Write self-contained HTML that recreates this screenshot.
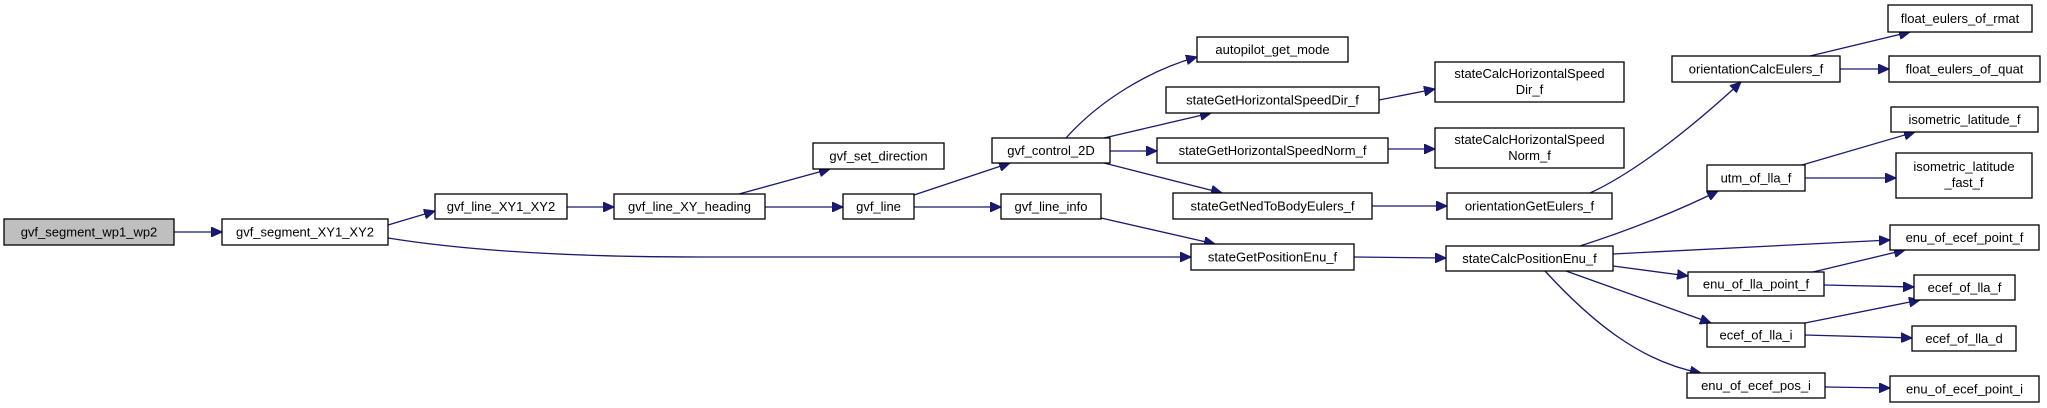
<!DOCTYPE html>
<html><head><meta charset="utf-8"><style>
html,body{margin:0;padding:0;background:#fff;}
svg{display:block;}
text{font-family:"Liberation Sans",sans-serif;font-size:13px;fill:#000;text-anchor:middle;}
rect{fill:#fff;stroke:#000;stroke-width:1.3;}
path{fill:none;stroke:#191970;stroke-width:1.3;}
</style></head><body>
<svg width="2047" height="408" viewBox="0 0 2047 408" xmlns="http://www.w3.org/2000/svg">
<defs>
<marker id="a" markerUnits="userSpaceOnUse" markerWidth="12" markerHeight="10" refX="11" refY="5" orient="auto">
<path d="M0,0 L11,5 L0,10 Z" style="fill:#191970;stroke:#191970;stroke-width:1"/>
</marker>
</defs>
<g marker-end="url(#a)">
<path d="M174,232 L222,232"/>
<path d="M388,225 L435,211"/>
<path d="M388,238 C450,248 550,257 700,257 L1191,257"/>
<path d="M567,207 L614,207"/>
<path d="M739,194 L830,169"/>
<path d="M765,207 L843,207"/>
<path d="M914,195 L1010,163"/>
<path d="M914,207 L1001,207"/>
<path d="M1101,218 L1215,244"/>
<path d="M1066,138 C1100,100 1150,70 1197,57"/>
<path d="M1104,138 L1211,113"/>
<path d="M1109,151 L1157,151"/>
<path d="M1104,163 L1222,193"/>
<path d="M1379,100 L1435,89"/>
<path d="M1388,149 L1435,149"/>
<path d="M1372,206 L1447,206"/>
<path d="M1590,193 C1640,170 1700,120 1741,82"/>
<path d="M1810,56 L1910,32"/>
<path d="M1840,69 L1889,69"/>
<path d="M1354,257 L1446,258"/>
<path d="M1580,246 C1630,230 1680,210 1718,191"/>
<path d="M1613,254 L1890,240"/>
<path d="M1613,266 L1688,276"/>
<path d="M1566,271 L1711,323"/>
<path d="M1545,271 C1590,320 1640,362 1701,373"/>
<path d="M1802,165 L1915,132"/>
<path d="M1805,178 L1896,178"/>
<path d="M1813,272 L1905,250"/>
<path d="M1824,285 L1914,287"/>
<path d="M1805,323 L1920,300"/>
<path d="M1805,335 L1912,338"/>
<path d="M1825,387 L1890,388"/>
</g>

<rect x="4" y="219" width="170" height="26" style="fill:#bfbfbf"/><text x="89" y="236.5">gvf_segment_wp1_wp2</text>
<rect x="222" y="219" width="166" height="26"/><text x="305" y="236.5">gvf_segment_XY1_XY2</text>
<rect x="435" y="194" width="132" height="25"/><text x="501" y="211">gvf_line_XY1_XY2</text>
<rect x="614" y="194" width="151" height="25"/><text x="689.5" y="211">gvf_line_XY_heading</text>
<rect x="813" y="143" width="131" height="26"/><text x="878.5" y="160.5">gvf_set_direction</text>
<rect x="843" y="194" width="71" height="25"/><text x="878.5" y="211">gvf_line</text>
<rect x="992" y="138" width="118" height="25"/><text x="1051" y="155">gvf_control_2D</text>
<rect x="1001" y="194" width="100" height="25"/><text x="1051" y="211">gvf_line_info</text>
<rect x="1191" y="244" width="163" height="26"/><text x="1272.5" y="261.5">stateGetPositionEnu_f</text>
<rect x="1197" y="37" width="151" height="25"/><text x="1272.5" y="54">autopilot_get_mode</text>
<rect x="1166" y="87" width="213" height="26"/><text x="1272.5" y="104.5">stateGetHorizontalSpeedDir_f</text>
<rect x="1157" y="138" width="231" height="25"/><text x="1272.5" y="155">stateGetHorizontalSpeedNorm_f</text>
<rect x="1173" y="193" width="199" height="26"/><text x="1272.5" y="210.5">stateGetNedToBodyEulers_f</text>
<rect x="1435" y="62" width="189" height="40"/><text x="1529.5" y="78">stateCalcHorizontalSpeed</text><text x="1529.5" y="94">Dir_f</text>
<rect x="1435" y="128" width="189" height="40"/><text x="1529.5" y="144">stateCalcHorizontalSpeed</text><text x="1529.5" y="160">Norm_f</text>
<rect x="1447" y="193" width="165" height="26"/><text x="1529.5" y="210.5">orientationGetEulers_f</text>
<rect x="1446" y="246" width="167" height="25"/><text x="1529.5" y="263">stateCalcPositionEnu_f</text>
<rect x="1672" y="56" width="168" height="26"/><text x="1756" y="73.5">orientationCalcEulers_f</text>
<rect x="1707" y="165" width="98" height="26"/><text x="1756" y="182.5">utm_of_lla_f</text>
<rect x="1688" y="272" width="136" height="24"/><text x="1756" y="288.5">enu_of_lla_point_f</text>
<rect x="1707" y="323" width="98" height="24"/><text x="1756" y="339.5">ecef_of_lla_i</text>
<rect x="1687" y="373" width="138" height="25"/><text x="1756" y="390">enu_of_ecef_pos_i</text>
<rect x="1888" y="5" width="144" height="27"/><text x="1960" y="23">float_eulers_of_rmat</text>
<rect x="1889" y="56" width="151" height="26"/><text x="1964.5" y="73.5">float_eulers_of_quat</text>
<rect x="1891" y="107" width="147" height="25"/><text x="1964.5" y="124">isometric_latitude_f</text>
<rect x="1896" y="153" width="136" height="45"/><text x="1964" y="171">isometric_latitude</text><text x="1964" y="187">_fast_f</text>
<rect x="1890" y="225" width="149" height="25"/><text x="1964.5" y="242">enu_of_ecef_point_f</text>
<rect x="1914" y="275" width="101" height="25"/><text x="1964.5" y="292">ecef_of_lla_f</text>
<rect x="1912" y="326" width="104" height="25"/><text x="1964" y="343">ecef_of_lla_d</text>
<rect x="1890" y="376" width="149" height="26"/><text x="1964.5" y="393.5">enu_of_ecef_point_i</text>
</svg>
</body></html>
